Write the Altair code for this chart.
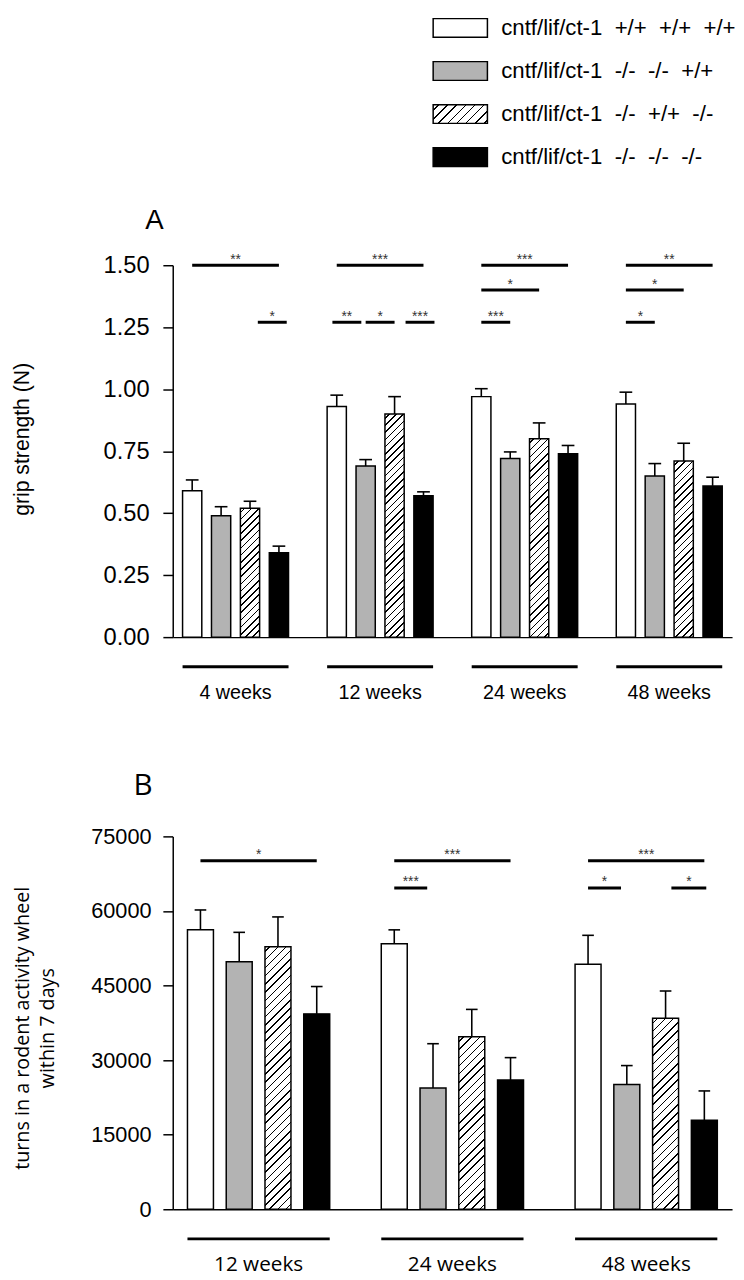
import altair as alt
import numpy as np
import pandas as pd

# ---------------- data ----------------
GENOTYPES = ["+/+ +/+ +/+", "-/- -/- +/+", "-/- +/+ -/-", "-/- -/- -/-"]
LEGEND_LABELS = [
    "cntf/lif/ct-1\u00a0 +/+\u00a0 +/+\u00a0 +/+",
    "cntf/lif/ct-1\u00a0 -/-\u00a0 -/-\u00a0 +/+",
    "cntf/lif/ct-1\u00a0 -/-\u00a0 +/+\u00a0 -/-",
    "cntf/lif/ct-1\u00a0 -/-\u00a0 -/-\u00a0 -/-",
]
HATCHED = "-/- +/+ -/-"
FILLS = ["white", "#b3b3b3", "white", "black"]

# Panel A: grip strength (N)
A_GROUPS = ["4 weeks", "12 weeks", "24 weeks", "48 weeks"]
A_MEAN = [
    [0.59, 0.49, 0.52, 0.34],
    [0.93, 0.69, 0.90, 0.57],
    [0.97, 0.72, 0.80, 0.74],
    [0.94, 0.65, 0.71, 0.61],
]
A_ERR = [
    [0.044, 0.036, 0.028, 0.027],
    [0.046, 0.026, 0.070, 0.016],
    [0.032, 0.027, 0.064, 0.033],
    [0.048, 0.050, 0.072, 0.035],
]
A_SIG_GROUP = [0, 0, 1, 1, 1, 1, 2, 2, 2, 3, 3, 3]
A_SIG_FROM = [0, 2.27, 0, -0.15, 1, 2.38, 0, 0, 0, 0, 0, 0]
A_SIG_TO = [3, 3.27, 3, 0.85, 2, 3.38, 3, 2, 1, 3, 2, 1]
A_SIG_LEVEL = [1.50, 1.27, 1.50, 1.27, 1.27, 1.27, 1.50, 1.40, 1.27, 1.50, 1.40, 1.27]
A_SIG_LABEL = ["**", "*", "***", "**", "*", "***", "***", "*", "***", "**", "*", "*"]

# Panel B: turns in a rodent activity wheel within 7 days
B_GROUPS = ["12 weeks", "24 weeks", "48 weeks"]
B_MEAN = [
    [56200, 49800, 52800, 39300],
    [53400, 24400, 34700, 26000],
    [49300, 25100, 38400, 17900],
]
B_ERR = [
    [4000, 5900, 6000, 5500],
    [2800, 8900, 5500, 4500],
    [5800, 3800, 5500, 5900],
]
B_SIG_GROUP = [0, 1, 1, 2, 2, 2]
B_SIG_FROM = [0, 0, 0, 0, 0, 2.15]
B_SIG_TO = [3, 3, 0.85, 3, 0.85, 3.05]
B_SIG_LEVEL = [70100, 70100, 64600, 70100, 64600, 64600]
B_SIG_LABEL = ["*", "***", "***", "***", "*", "*"]

A_TICKS = [0, 0.25, 0.5, 0.75, 1.0, 1.25, 1.5]
B_TICKS = [0, 15000, 30000, 45000, 60000, 75000]

W = 567
ARIAL = "Liberation Sans"
OPEN = "Open Sans"


def hatch(wpx, hpx, period, lw=1.5):
    """Linear gradient with hard stops that draws '/' hatching in a w x h box."""
    L = wpx + hpx
    k = L / (wpx ** 2 + hpx ** 2)
    stops = [{"offset": 0, "color": "white"}]
    c = period * 0.6
    while c < L:
        a = max(0.0, (c - lw / 2) / L)
        b = min(1.0, (c + lw / 2) / L)
        stops += [
            {"offset": a, "color": "white"},
            {"offset": a, "color": "black"},
            {"offset": b, "color": "black"},
            {"offset": b, "color": "white"},
        ]
        c += period
    stops.append({"offset": 1, "color": "white"})
    return {"gradient": "linear", "x1": 0, "y1": 0, "x2": wpx * k, "y2": hpx * k, "stops": stops}


def bar_table(groups, means, errs):
    rows = []
    for g, (name, ms, es) in enumerate(zip(groups, means, errs)):
        for b, (m, e) in enumerate(zip(ms, es)):
            rows.append(dict(group=name, gi=g, bi=b, genotype=GENOTYPES[b],
                             mean=m, err=e, bid=f"{name}|{b}"))
    return pd.DataFrame(rows)


def panel(groups, means, errs, sg, sf, st, sl, slab, ymax, yticks, yfmt, H,
          bar_w, margin, cap, period, tick_font, tick_size, tick_pad,
          ytitle, ytitle_font, ytitle_size, ytitle_x, ytitle_y,
          xlab_font, xlab_size, letter, letter_font, letter_size, letter_xy, star_dy):
    G = len(groups)
    lo = -(bar_w / 2 + margin)
    hi = 5 * (G - 1) + 3 + bar_w / 2 + margin
    s = W / (hi - lo)
    df = bar_table(groups, means, errs)

    xs = alt.Scale(domain=[lo, hi], nice=False, zero=False)
    ys = alt.Scale(domain=[0, ymax], nice=False, zero=True)
    xaxis = alt.Axis(labels=False, ticks=False, tickSize=0, grid=False, domain=True,
                     domainColor="black", domainWidth=1.5, title=None)
    yaxis = alt.Axis(values=yticks, format=yfmt, grid=False, tickSize=10, tickWidth=1.5,
                     tickColor="black", domainColor="black", domainWidth=1.5,
                     labelFont=tick_font, labelFontSize=tick_size, labelColor="black",
                     labelPadding=tick_pad, title=ytitle, titleFont=ytitle_font,
                     titleFontSize=ytitle_size, titleFontWeight="normal", titleColor="black",
                     titleX=ytitle_x, titleY=ytitle_y, titleAngle=270, titleBaseline="middle",
                     titleAlign="center", titleLineHeight=25)

    def X(f):
        return alt.X(f, type="quantitative", scale=xs, axis=xaxis)

    def Y(f):
        return alt.Y(f, type="quantitative", scale=ys, axis=yaxis)

    conds = []
    for _, r in df[df.genotype == HATCHED].iterrows():
        conds.append({"test": f"datum.bid === '{r.bid}'",
                      "value": hatch(bar_w * s, r["mean"] / ymax * H, period)})
    fill = alt.Fill("genotype:N", scale=alt.Scale(domain=GENOTYPES, range=FILLS),
                    legend=None, condition=conds)

    base = alt.Chart(df).transform_calculate(
        xc="5*datum.gi + datum.bi",
        x0=f"datum.xc - {bar_w / 2}",
        x1=f"datum.xc + {bar_w / 2}",
        cl=f"datum.xc - {cap}",
        cr=f"datum.xc + {cap}",
        top="datum.mean + datum.err",
    )
    bars = base.mark_bar(stroke="black", strokeWidth=1.5).encode(
        x=X("x0"), x2="x1", y=Y("mean"), y2=alt.datum(0), fill=fill)
    err = base.mark_rule(color="black", strokeWidth=1.6).encode(x=X("xc"), y=Y("mean"), y2="top")
    caps = base.mark_rule(color="black", strokeWidth=1.6).encode(x=X("cl"), x2="cr", y=Y("top"))

    sig = pd.DataFrame(dict(gi=sg, f=sf, t=st, level=sl, label=slab))
    sbase = alt.Chart(sig).transform_calculate(
        sx0="5*datum.gi + datum.f", sx1="5*datum.gi + datum.t",
        sxm="5*datum.gi + (datum.f + datum.t)/2")
    slines = sbase.mark_rule(color="black", strokeWidth=3).encode(x=X("sx0"), x2="sx1", y=Y("level"))
    stars = sbase.mark_text(font=ARIAL, fontSize=14, color="#333333", baseline="middle",
                            dy=star_dy).encode(x=X("sxm"), y=Y("level"), text="label:N")

    gdf = pd.DataFrame(dict(group=groups, gi=list(range(G))))
    gbase = alt.Chart(gdf).transform_calculate(
        ux0=f"5*datum.gi - {bar_w / 2}", ux1=f"5*datum.gi + 3 + {bar_w / 2}",
        gc="5*datum.gi + 1.5")
    under = gbase.mark_rule(color="black", strokeWidth=3).encode(
        x=X("ux0"), x2="ux1", y=alt.value(H + 30))
    glab = gbase.mark_text(font=xlab_font, fontSize=xlab_size, color="black",
                           baseline="middle").encode(
        x=X("gc"), y=alt.value(H + 57), text="group:N")

    let = alt.Chart(pd.DataFrame({"letter": [letter]})).mark_text(
        font=letter_font, fontSize=letter_size, color="black", baseline="middle",
        align="center").encode(x=alt.value(letter_xy[0]), y=alt.value(letter_xy[1]),
                               text="letter:N")

    return alt.layer(bars, err, caps, slines, stars, under, glab, let).properties(width=W, height=H)


pA = panel(A_GROUPS, A_MEAN, A_ERR, A_SIG_GROUP, A_SIG_FROM, A_SIG_TO, A_SIG_LEVEL,
           A_SIG_LABEL, 1.5, A_TICKS, ".2f", 377, 0.665, 0.34, 0.22, 7.3,
           ARIAL, 24, 14, "grip strength (N)", ARIAL, 21.5, -152, 176,
           ARIAL, 20, "A", ARIAL, 28, (-18.5, -45), -5)

pB = panel(B_GROUPS, B_MEAN, B_ERR, B_SIG_GROUP, B_SIG_FROM, B_SIG_TO, B_SIG_LEVEL,
           B_SIG_LABEL, 75000, B_TICKS, "d", 378, 0.67, 0.38, 0.15, 8.3,
           ARIAL, 22, 12, ["turns in a rodent activity wheel", "within 7 days"], OPEN, 20,
           -152, 194, OPEN, 21, "B", OPEN, 30, (-30, -51), -6)

# ---------------- legend ----------------
STEP = 43.6
HALF = 9.5 / STEP
LH = 48
ldf = pd.DataFrame(dict(genotype=GENOTYPES, label=LEGEND_LABELS, row=list(range(4))))
ls = alt.Scale(domain=[-HALF, -HALF + LH / STEP], nice=False, zero=False, reverse=True)
lbase = alt.Chart(ldf).transform_calculate(yt=f"datum.row - {HALF}", yb=f"datum.row + {HALF}")
lfill = alt.Fill("genotype:N", scale=alt.Scale(domain=GENOTYPES, range=FILLS), legend=None,
                 condition=[{"test": f"datum.genotype === '{HATCHED}'", "value": hatch(55, 19, 9.3)}])
lbox = lbase.mark_rect(stroke="black", strokeWidth=1.5).encode(
    x=alt.value(264), x2=alt.value(319), y=alt.Y("yt:Q", scale=ls, axis=None), y2="yb:Q", fill=lfill)
ltext = lbase.mark_text(font=ARIAL, fontSize=22.5, align="left", baseline="middle", color="black").encode(
    x=alt.value(333), y=alt.Y("row:Q", scale=ls, axis=None), text="label:N")
legend = alt.layer(lbox, ltext).properties(width=W, height=LH)

chart = alt.vconcat(legend, pA, pB, spacing=202, bounds="flush").configure_view(
    stroke=None).properties(padding={"left": 4, "top": 0, "right": 0, "bottom": 0})

chart.save("out.html", embed_options={"renderer": "svg", "actions": False})
